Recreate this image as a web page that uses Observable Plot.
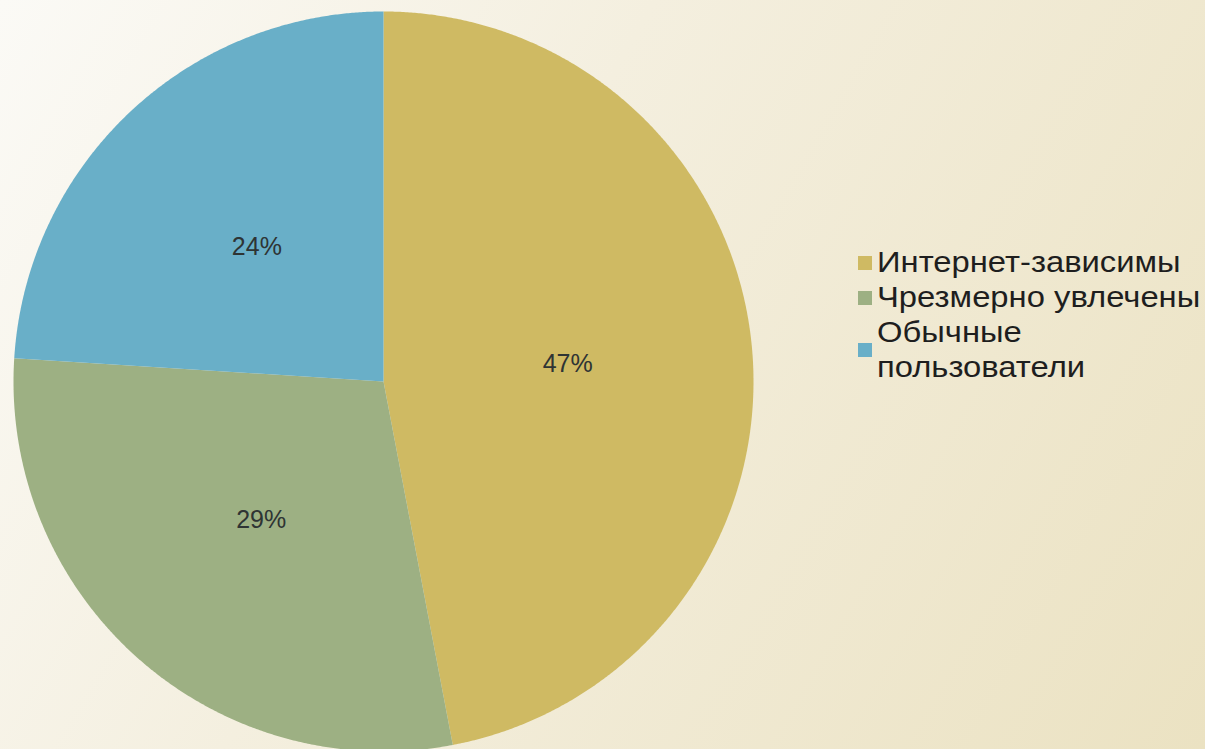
<!DOCTYPE html>
<html><head><meta charset="utf-8">
<script src="https://cdn.jsdelivr.net/npm/d3@7"></script>
<script src="https://cdn.jsdelivr.net/npm/@observablehq/plot@0.6"></script>
<style>
html,body{margin:0;padding:0;}
body{width:1205px;height:749px;overflow:hidden;background:linear-gradient(120deg,#fbfaf6 0%,#f4efdf 40%,#ebe2c2 100%);font-family:"Liberation Sans",Arial,sans-serif;}
#wrap{position:relative;width:1205px;height:749px;}
#chart svg{display:block;}
#legend{position:absolute;left:858px;top:245px;color:#1e1e1e;font-size:29px;line-height:35px;}
.row{display:flex;align-items:center;}
.sw{width:14px;height:14px;margin-right:5px;flex:none;}
.tx{transform:scaleX(1.13);transform-origin:left center;white-space:nowrap;}
</style></head><body><div id="wrap"><div id="chart"></div><div id="legend"></div></div>
<script>
const categories = ["Интернет-зависимы","Чрезмерно увлечены","Обычные пользователи"];
const legendLines = [["Интернет-зависимы"],["Чрезмерно увлечены"],["Обычные","пользователи"]];
const values = [47, 29, 24];
const percentLabels = ["47%", "29%", "24%"];
const colors = ["#CFBA63", "#9DB083", "#69AFC8"];

const arcs = d3.pie().sort(null).value(d => d)(values);
const polys = [];
arcs.forEach((a, i) => {
  polys.push({cat: categories[i], x: 0, y: 0});
  const n = Math.max(2, Math.ceil((a.endAngle - a.startAngle) / 0.005));
  for (let k = 0; k <= n; k++) {
    const t = a.startAngle + (a.endAngle - a.startAngle) * k / n;
    polys.push({cat: categories[i], x: Math.sin(t), y: Math.cos(t)});
  }
});
const labelData = arcs.map((a, i) => {
  const m = (a.startAngle + a.endAngle) / 2;
  return {text: percentLabels[i], x: 0.5 * Math.sin(m), y: 0.5 * Math.cos(m)};
});

const chart = Plot.plot({
  width: 1205,
  height: 749,
  x: {domain: [-1, 1], range: [13, 753], axis: null},
  y: {domain: [-1, 1], range: [751, 11], axis: null},
  color: {domain: categories, range: colors},
  style: {background: "transparent", overflow: "visible", fontFamily: "Liberation Sans, Arial, sans-serif"},
  marks: [
    Plot.line(polys, {x: "x", y: "y", z: "cat", fill: "cat", stroke: "none", curve: "linear-closed"}),
    Plot.text(labelData, {x: "x", y: "y", text: "text", fontSize: 25, fill: "#2e3434"})
  ]
});
document.getElementById("chart").appendChild(chart);

const legend = document.getElementById("legend");
legendLines.forEach((lines, i) => {
  const row = document.createElement("div");
  row.className = "row";
  const sw = document.createElement("div");
  sw.className = "sw";
  sw.style.background = colors[i];
  const tx = document.createElement("div");
  tx.className = "tx";
  tx.innerHTML = lines.join("<br>");
  row.appendChild(sw);
  row.appendChild(tx);
  legend.appendChild(row);
});
</script></body></html>
